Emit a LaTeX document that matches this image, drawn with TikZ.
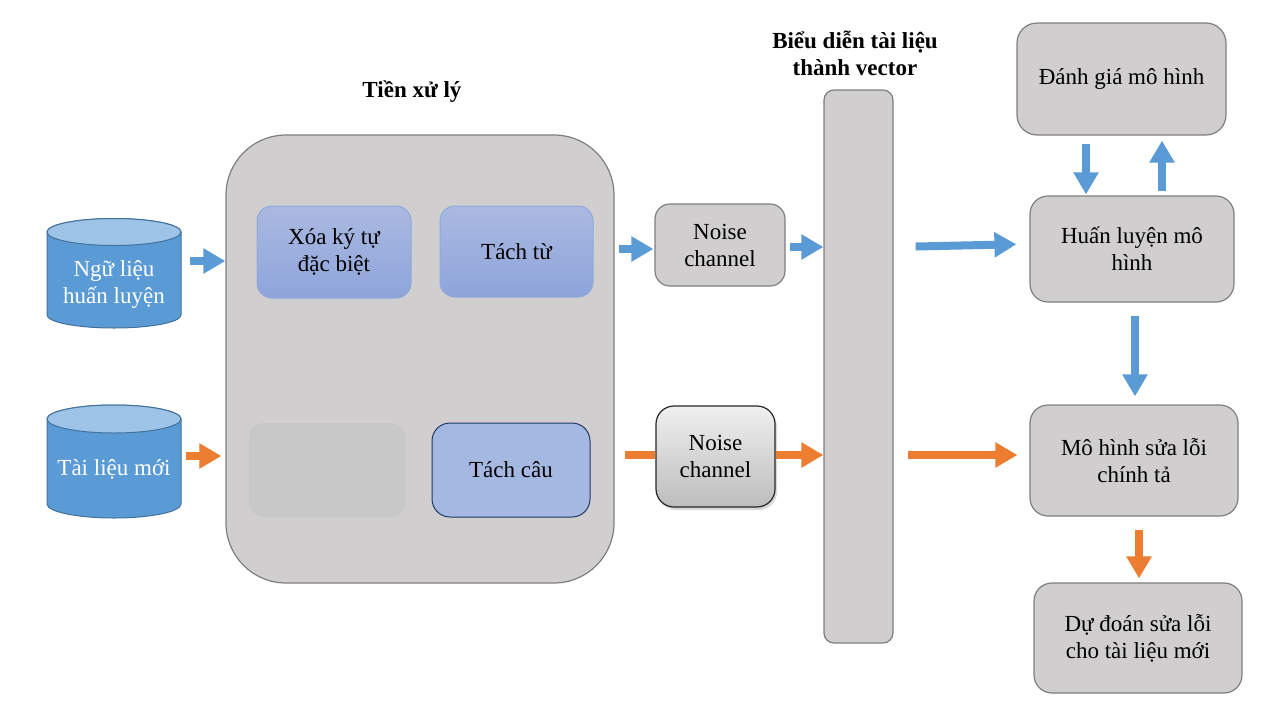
\documentclass[tikz,border=0pt]{standalone}
\usepackage{fontspec}
\setmainfont{Liberation Serif}
\usetikzlibrary{arrows.meta,shadows}
\definecolor{boxgray}{HTML}{D0CECE}
\definecolor{boxline}{HTML}{7F7F7F}
\definecolor{cylbody}{HTML}{5B9BD5}
\definecolor{cyltop}{HTML}{9DC3E6}
\definecolor{cylline}{HTML}{41719C}
\definecolor{bluetop}{HTML}{AAB9E1}
\definecolor{bluebot}{HTML}{8EA4DA}
\definecolor{blueline}{HTML}{8FAADC}
\definecolor{sentfill}{HTML}{A5B8E1}
\definecolor{sentline}{HTML}{1F3864}
\definecolor{emptygray}{HTML}{C8C8C8}
\definecolor{arrblue}{HTML}{5B9BD5}
\definecolor{arrorange}{HTML}{ED7D31}
\begin{document}
\begin{tikzpicture}[x=1pt,y=-1pt,
  txt/.style={font=\fontsize{23}{27}\selectfont, align=center, text=black},
  ttl/.style={font=\fontsize{23}{27}\selectfont\bfseries, align=center},
  graybox/.style={txt, draw=boxline, line width=1.2pt, fill=boxgray, rounded corners=18pt, inner sep=0pt},
  bluebox/.style={txt, draw=blueline, line width=1pt, top color=bluetop, bottom color=bluebot, rounded corners=15pt, inner sep=0pt},
  area/.style={minimum width=134pt, inner sep=0pt},
  barrow/.style={draw=arrblue, line width=8pt, -{Triangle[length=22pt,width=24pt]}},
  oarrow/.style={draw=arrorange, line width=8pt, -{Triangle[length=22pt,width=24pt]}},
  oline/.style={draw=arrorange, line width=8pt},
]
\useasboundingbox (0,0) rectangle (1288,726);

% cylinders
\node[area, minimum height=110pt] (cyl1) at (114,273) {};
\filldraw[fill=cylbody, draw=cylline, line width=1pt]
  (47,232) -- (47,315) arc[start angle=180, end angle=360, x radius=67pt, y radius=13pt]
  -- (181,232) arc[start angle=0, end angle=180, x radius=67pt, y radius=13.5pt] -- cycle;
\filldraw[fill=cyltop, draw=cylline, line width=1pt] (114,232) ellipse[x radius=67pt, y radius=13.5pt];
\node[txt, text=white] (cyl1t) at (114,284) {Ngữ liệu\\huấn luyện};

\node[area, minimum height=113pt] (cyl2) at (114,461.5) {};
\filldraw[fill=cylbody, draw=cylline, line width=1pt]
  (47,419) -- (47,504) arc[start angle=180, end angle=360, x radius=67pt, y radius=14pt]
  -- (181,419) arc[start angle=0, end angle=180, x radius=67pt, y radius=14pt] -- cycle;
\filldraw[fill=cyltop, draw=cylline, line width=1pt] (114,419) ellipse[x radius=67pt, y radius=14pt];
\node[txt, text=white] (cyl2t) at (114,469) {Tài liệu mới};

% preprocessing
\node[ttl] (tt1) at (412,92) {Tiền xử lý};
\node[graybox, rounded corners=60pt, minimum width=388pt, minimum height=448pt] (big) at (420,359) {};
\node[bluebox, minimum width=154pt, minimum height=92pt] (xoa) at (334,252) {Xóa ký tự\\đặc biệt};
\node[bluebox, minimum width=153pt, minimum height=91pt] (tachtu) at (516.5,251.5) {Tách từ};
\node[fill=emptygray, rounded corners=15pt, minimum width=156pt, minimum height=94pt, inner sep=0pt] (empty) at (327,470) {};
\node[txt, draw=sentline, line width=1pt, fill=sentfill, rounded corners=18pt, minimum width=158pt, minimum height=94pt, inner sep=0pt] (tachcau) at (511,470) {Tách câu};

% noise channels
\node[graybox, rounded corners=15pt, minimum width=130pt, minimum height=82pt] (nc1) at (720,245) {Noise\\channel};
\node[txt, draw=black!85, line width=1.2pt, top color=white!94!black, bottom color=white!74!black, rounded corners=18pt,
  minimum width=119pt, minimum height=101pt, inner sep=0pt,
  drop shadow={shadow xshift=2pt, shadow yshift=-3pt, opacity=0.3}] (nc2) at (715.5,456.5) {Noise\\channel};

% vector
\node[ttl] (tt2) at (855,53) {Biểu diễn tài liệu\\thành vector};
\node[graybox, rounded corners=10pt, minimum width=69pt, minimum height=553pt] (vec) at (858.5,366.5) {};

% right column
\node[graybox, rounded corners=20pt, minimum width=209pt, minimum height=112pt] (eval) at (1121.5,79) {Đánh giá mô hình};
\node[graybox, minimum width=204pt, minimum height=106pt] (train) at (1132,249) {Huấn luyện mô\\hình};
\node[graybox, minimum width=208pt, minimum height=111pt] (spell) at (1134,460.5) {Mô hình sửa lỗi\\chính tả};
\node[graybox, minimum width=208pt, minimum height=110pt] (pred) at (1138,638) {Dự đoán sửa lỗi\\cho tài liệu mới};

% arrows
\draw[barrow, shorten <=9pt] ([yshift=12pt]cyl1.east) -- ([yshift=12pt]cyl1.east -| big.west);
\draw[oarrow, shorten <=5pt, shorten >=4pt] ([yshift=5.5pt]cyl2.east) -- ([yshift=5.5pt]cyl2.east -| big.west);
\draw[barrow, shorten <=4pt, shorten >=1pt] ([yshift=-4pt]nc1.west -| big.east) -- ([yshift=-4pt]nc1.west);
\draw[barrow, shorten <=4pt] ([yshift=-2pt]nc1.east) -- ([yshift=-2pt]nc1.east -| vec.west);
\draw[oline, shorten <=10pt] ([yshift=1.5pt]nc2.west -| big.east) -- ([yshift=1.5pt]nc2.west);
\draw[oarrow] ([yshift=1.5pt]nc2.east) -- ([yshift=1.5pt]nc2.east -| vec.west);
\draw[barrow, shorten <=22pt, shorten >=13pt] ([yshift=2pt]train.west -| vec.east) -- ([yshift=5pt]train.west);
\draw[oarrow, shorten <=14pt, shorten >=12pt] ([yshift=5.5pt]spell.west -| vec.east) -- ([yshift=5.5pt]spell.west);
\draw[barrow, shorten <=8pt, shorten >=1pt] ([xshift=-35.5pt]eval.south) -- ([xshift=-35.5pt]eval.south |- train.north);
\draw[barrow, shorten <=4pt, shorten >=5pt] ([xshift=40.5pt]eval.south |- train.north) -- ([xshift=40.5pt]eval.south);
\draw[barrow, shorten <=13pt, shorten >=8pt] ([xshift=3pt]train.south) -- ([xshift=3pt]train.south |- spell.north);
\draw[oarrow, shorten <=13pt, shorten >=4pt] ([xshift=5pt]spell.south) -- ([xshift=5pt]spell.south |- pred.north);
\end{tikzpicture}
\end{document}
